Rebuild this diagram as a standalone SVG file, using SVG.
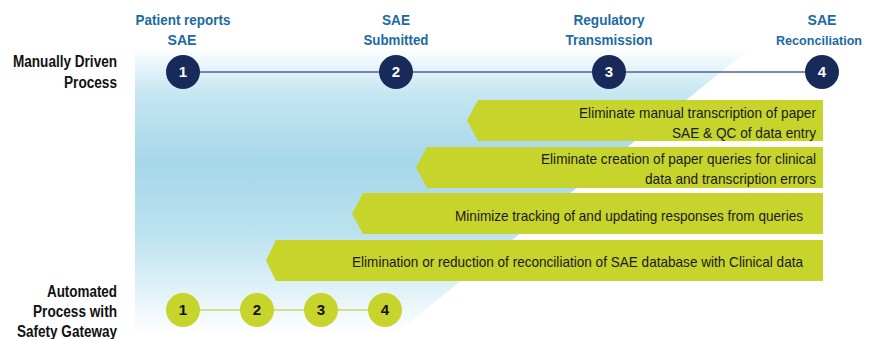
<svg xmlns="http://www.w3.org/2000/svg" width="870" height="339" viewBox="0 0 870 339">
<defs>
<linearGradient id="bg" x1="0" y1="47" x2="0" y2="335" gradientUnits="userSpaceOnUse">
<stop offset="0" stop-color="#ffffff"/>
<stop offset="0.16" stop-color="#c6e6f2"/>
<stop offset="0.4" stop-color="#a6d7ea"/>
<stop offset="0.65" stop-color="#bce2f0"/>
<stop offset="1" stop-color="#ffffff"/>
</linearGradient>
<style>
.lbl{font-family:"Liberation Sans Narrow","Liberation Sans",Arial,sans-serif;font-weight:bold;font-size:16px;fill:#111;text-anchor:end;}
.top{font-family:"Liberation Sans Narrow","Liberation Sans",Arial,sans-serif;font-weight:bold;font-size:15.5px;fill:#1d6aa3;text-anchor:middle;}
.num{font-family:"Liberation Sans",Arial,sans-serif;font-weight:bold;font-size:15px;text-anchor:middle;}
.bt{font-family:"Liberation Sans Narrow","Liberation Sans",Arial,sans-serif;font-size:15px;fill:#1a1a1a;text-anchor:end;}
.nav{fill:#172a5a;}
.grn{fill:#c6d42c;}
</style>
</defs>
<rect width="870" height="339" fill="#ffffff"/>
<polygon points="135,47 752,47 395,334 135,334" fill="url(#bg)"/>

<g id="connectors">
<line x1="183" y1="72" x2="822" y2="72" stroke="#4d6296" stroke-width="1.3"/>
<line x1="183" y1="310" x2="385" y2="310" stroke="#c9d86a" stroke-width="1.5"/>
</g>

<g id="labels-left">
<text class="lbl" x="117" y="67" textLength="104" lengthAdjust="spacingAndGlyphs">Manually Driven</text>
<text class="lbl" x="117" y="88" textLength="53" lengthAdjust="spacingAndGlyphs">Process</text>
<text class="lbl" x="117" y="297" textLength="70" lengthAdjust="spacingAndGlyphs">Automated</text>
<text class="lbl" x="117" y="317" textLength="84" lengthAdjust="spacingAndGlyphs">Process with</text>
<text class="lbl" x="117" y="337" textLength="100" lengthAdjust="spacingAndGlyphs">Safety Gateway</text>
</g>

<g id="m1">
<text class="top" x="183" y="25" textLength="95" lengthAdjust="spacingAndGlyphs">Patient reports</text>
<text class="top" x="182" y="45" textLength="29" lengthAdjust="spacingAndGlyphs">SAE</text>
<circle class="nav" cx="183" cy="72" r="17"/>
<text class="num" x="183" y="77" fill="#fff">1</text>
</g>
<g id="m2">
<text class="top" x="396" y="25" textLength="28" lengthAdjust="spacingAndGlyphs">SAE</text>
<text class="top" x="396" y="45" textLength="65" lengthAdjust="spacingAndGlyphs">Submitted</text>
<circle class="nav" cx="396" cy="72" r="17"/>
<text class="num" x="396" y="77" fill="#fff">2</text>
</g>
<g id="m3">
<text class="top" x="609" y="25" textLength="71" lengthAdjust="spacingAndGlyphs">Regulatory</text>
<text class="top" x="609" y="45" textLength="87" lengthAdjust="spacingAndGlyphs">Transmission</text>
<circle class="nav" cx="609" cy="72" r="17"/>
<text class="num" x="609" y="77" fill="#fff">3</text>
</g>
<g id="m4">
<text class="top" x="822" y="25" textLength="29" lengthAdjust="spacingAndGlyphs">SAE</text>
<text class="top" x="819" y="45" style="font-size:13.5px" textLength="86" lengthAdjust="spacingAndGlyphs">Reconciliation</text>
<circle class="nav" cx="822" cy="72" r="17"/>
<text class="num" x="822" y="77" fill="#fff">4</text>
</g>

<g id="b1">
<polygon class="grn" points="478,100 823,100 823,141 478,141 467,120.5"/>
<text class="bt" x="816" y="117.5" textLength="237" lengthAdjust="spacingAndGlyphs">Eliminate manual transcription of paper</text>
<text class="bt" x="816" y="137.5" textLength="144" lengthAdjust="spacingAndGlyphs">SAE &amp; QC of data entry</text>
</g>
<g id="b2">
<polygon class="grn" points="427,147 823,147 823,188 427,188 416,167.5"/>
<text class="bt" x="816" y="163.5" textLength="275" lengthAdjust="spacingAndGlyphs">Eliminate creation of paper queries for clinical</text>
<text class="bt" x="816" y="183.5" textLength="171" lengthAdjust="spacingAndGlyphs">data and transcription errors</text>
</g>
<g id="b3">
<polygon class="grn" points="363,193 823,193 823,234 363,234 352,213.5"/>
<text class="bt" x="803" y="220.5" textLength="348" lengthAdjust="spacingAndGlyphs">Minimize tracking of and updating responses from queries</text>
</g>
<g id="b4">
<polygon class="grn" points="276,240 823,240 823,281 276,281 266,260.5"/>
<text class="bt" x="803" y="266.5" textLength="451" lengthAdjust="spacingAndGlyphs">Elimination or reduction of reconciliation of SAE database with Clinical data</text>
</g>

<g id="a1"><circle class="grn" cx="183" cy="310" r="17"/><text class="num" x="183" y="315" fill="#111">1</text></g>
<g id="a2"><circle class="grn" cx="257" cy="310" r="17"/><text class="num" x="257" y="315" fill="#111">2</text></g>
<g id="a3"><circle class="grn" cx="321" cy="310" r="17"/><text class="num" x="321" y="315" fill="#111">3</text></g>
<g id="a4"><circle class="grn" cx="385" cy="310" r="17"/><text class="num" x="385" y="315" fill="#111">4</text></g>
</svg>
